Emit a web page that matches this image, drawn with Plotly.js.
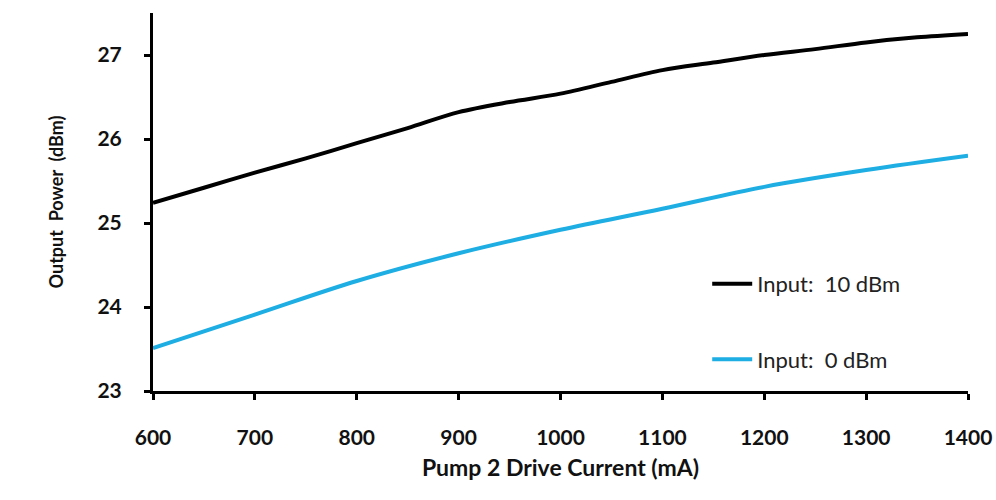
<!DOCTYPE html>
<html>
<head>
<meta charset="utf-8">
<script src="https://cdn.plot.ly/plotly-3.0.1.min.js"></script>
<style>html,body{margin:0;padding:0;background:#fff;}#chart{width:996px;height:500px;}</style>
</head>
<body>
<div id="chart"></div>
<script>
const currentHigh = [600, 650, 700, 750, 800, 850, 900, 950, 1000, 1050, 1100, 1150, 1200, 1250, 1300, 1350, 1400];
const power10dBm = [25.24, 25.42, 25.60, 25.77, 25.95, 26.13, 26.32, 26.44, 26.54, 26.68, 26.82, 26.91, 27.00, 27.07, 27.15, 27.21, 27.25];
const currentLow = [600, 700, 800, 900, 1000, 1100, 1200, 1300, 1400];
const power0dBm = [23.51, 23.91, 24.31, 24.64, 24.92, 25.17, 25.43, 25.63, 25.80];
const seriesNames = ["Input:  10 dBm", "Input:  0 dBm"];
const xTicks = [600, 700, 800, 900, 1000, 1100, 1200, 1300, 1400];
const yTicks = [23, 24, 25, 26, 27];

const traces = [
  {x: currentHigh, y: power10dBm, name: seriesNames[0], type: "scatter", mode: "lines",
   line: {color: "#000000", width: 4, shape: "spline", smoothing: 0.9}, legendgroup: "a"},
  {x: currentLow, y: power0dBm, name: seriesNames[1], type: "scatter", mode: "lines",
   line: {color: "#1eaee4", width: 4, shape: "spline", smoothing: 1}, legendgroup: "b"}
];

const axisCommon = {
  showline: true, linecolor: "#000", linewidth: 3, ticks: "outside", ticklen: 6, tickwidth: 3,
  tickcolor: "#000", showgrid: false, zeroline: false,
  tickfont: {family: "Lato, 'Open Sans', sans-serif", size: 21, color: "#111", weight: "bold"}
};

const layout = {
  width: 996, height: 500,
  margin: {l: 153, r: 28, t: 13, b: 109},
  paper_bgcolor: "#fff", plot_bgcolor: "#fff",
  showlegend: true,
  legend: {x: 0.68, y: 0.183, xanchor: "left", yanchor: "middle", tracegroupgap: 44,
           font: {family: "Lato, 'Open Sans', sans-serif", size: 22, color: "#222"},
           bgcolor: "rgba(0,0,0,0)", itemwidth: 40},
  xaxis: Object.assign({}, axisCommon, {
    range: [600, 1400], tickvals: xTicks, ticklabelstandoff: 20,
    title: {text: "Pump 2 Drive Current (mA)", standoff: 12,
            font: {family: "Lato, 'Open Sans', sans-serif", size: 23, color: "#111", weight: "bold"}}
  }),
  yaxis: Object.assign({}, axisCommon, {
    range: [23, 27.5], tickvals: yTicks, ticklabelstandoff: 18,
    title: {text: "Output  Power  (dBm)", standoff: 30,
            font: {family: "Lato, 'Open Sans', sans-serif", size: 18, color: "#111", weight: "bold"}}
  })
};

Plotly.newPlot("chart", traces, layout, {displayModeBar: false, staticPlot: true});
</script>
</body>
</html>
